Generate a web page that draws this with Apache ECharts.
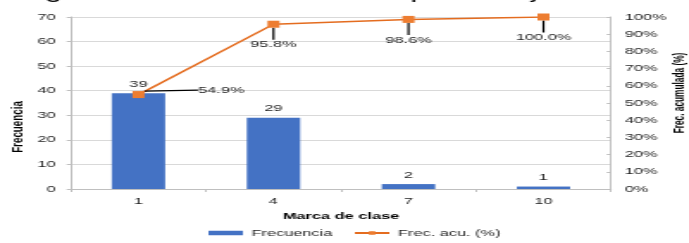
<!DOCTYPE html>
<html>
<head>
<meta charset="utf-8">
<script src="https://cdn.jsdelivr.net/npm/echarts@6/dist/echarts.min.js"></script>
<style>
html,body{margin:0;padding:0;overflow:hidden;background:#fff;}
#wrap{width:689px;height:243px;overflow:hidden;position:relative;}
#c{width:400px;height:243px;transform:scaleX(1.7225);transform-origin:0 0;position:absolute;left:0;top:0;}
</style>
</head>
<body>
<div id="wrap"><div id="c"></div></div>
<script>
const categories = ['1', '4', '7', '10'];
const frecuencia = [39, 29, 2, 1];
const frecAcu = [54.9, 95.8, 98.6, 100.0];
const titleText = 'Histograma de frecuencias con porcentaje acumulado';
const xName = 'Marca de clase';
const yLeftName = 'Frecuencia';
const yRightName = 'Frec. acumulada (%)';
const seriesNames = ['Frecuencia', 'Frec. acu. (%)'];

const FONT = '"Liberation Sans", Arial, sans-serif';
const TXT = '#1f1f1f';
const AX = '#bfbfbf';

const chart = echarts.init(document.getElementById('c'), null, {renderer: 'canvas'});
chart.setOption({
  animation: false,
  textStyle: {fontFamily: FONT},
  title: {
    text: titleText, left: -20, top: -21,
    textStyle: {fontFamily: FONT, fontSize: 18, fontWeight: 'normal', color: '#000'}
  },
  grid: {left: 41.2, right: 45.3, top: 17, bottom: 54, containLabel: false},
  legend: {
    left: 121, top: 228, padding: 0, itemGap: 12,
    itemWidth: 20, itemHeight: 4.5,
    textStyle: {fontFamily: FONT, fontSize: 9.5, color: TXT},
    data: [{name: seriesNames[0], icon: 'rect'}, {name: seriesNames[1]}]
  },
  xAxis: {
    type: 'category', data: categories,
    name: xName, nameLocation: 'middle', nameGap: 20,
    nameTextStyle: {fontFamily: FONT, fontSize: 9.5, fontWeight: 'bold', color: '#000'},
    axisLine: {lineStyle: {color: AX, width: 1}},
    axisTick: {show: true, length: 3, lineStyle: {color: AX}},
    axisLabel: {fontFamily: FONT, fontSize: 9.5, color: TXT, margin: 7},
    splitLine: {show: false}
  },
  yAxis: [
    {
      type: 'value', min: 0, max: 70, interval: 10,
      axisLine: {show: true, lineStyle: {color: AX}},
      axisTick: {show: true, length: 2.5, lineStyle: {color: AX}},
      axisLabel: {fontFamily: FONT, fontSize: 9.5, color: TXT, margin: 9},
      splitLine: {show: true, lineStyle: {color: '#d9d9d9', width: 1}}
    },
    {
      type: 'value', min: 0, max: 100, interval: 10, position: 'right',
      axisLine: {show: true, lineStyle: {color: AX}},
      axisTick: {show: true, inside: true, length: 2.5, lineStyle: {color: AX}},
      axisLabel: {fontFamily: FONT, fontSize: 9.5, color: TXT, margin: 8, formatter: '{value}%'},
      splitLine: {show: false}
    }
  ],
  graphic: [
    {type: 'text', x: 10.4, y: 127, rotation: Math.PI / 2,
     style: {text: yLeftName, fontFamily: FONT, fontSize: 9.8, fontWeight: 'bold', fill: '#000', align: 'center', verticalAlign: 'middle'}},
    {type: 'text', x: 395, y: 93, rotation: Math.PI / 2,
     style: {text: yRightName, fontFamily: FONT, fontSize: 8.3, fontWeight: 'bold', fill: '#000', align: 'center', verticalAlign: 'middle'}}
  ],
  series: [
    {
      name: seriesNames[0], type: 'bar', data: frecuencia, barWidth: 31, yAxisIndex: 0,
      itemStyle: {color: '#4472C4'},
      label: {show: true, position: 'top', distance: 4, fontFamily: FONT, fontSize: 9.5, color: TXT}
    },
    {
      name: seriesNames[1], type: 'line', data: frecAcu, yAxisIndex: 1, z: 5,
      symbol: 'rect', symbolSize: 7,
      lineStyle: {color: '#E46C1F', width: 1.5},
      itemStyle: {color: '#ED7D31'},
      label: {show: true, position: 'bottom', distance: 3, fontFamily: FONT, fontSize: 9.5, color: TXT,
              formatter: p => p.value.toFixed(1) + '%'},
      labelLine: {show: true, lineStyle: {color: '#000', width: 1.2}},
      labelLayout: p => p.dataIndex === 0 ? {dx: 48, dy: -16} : {dx: 0, dy: 9}
    }
  ]
});
</script>
</body>
</html>
